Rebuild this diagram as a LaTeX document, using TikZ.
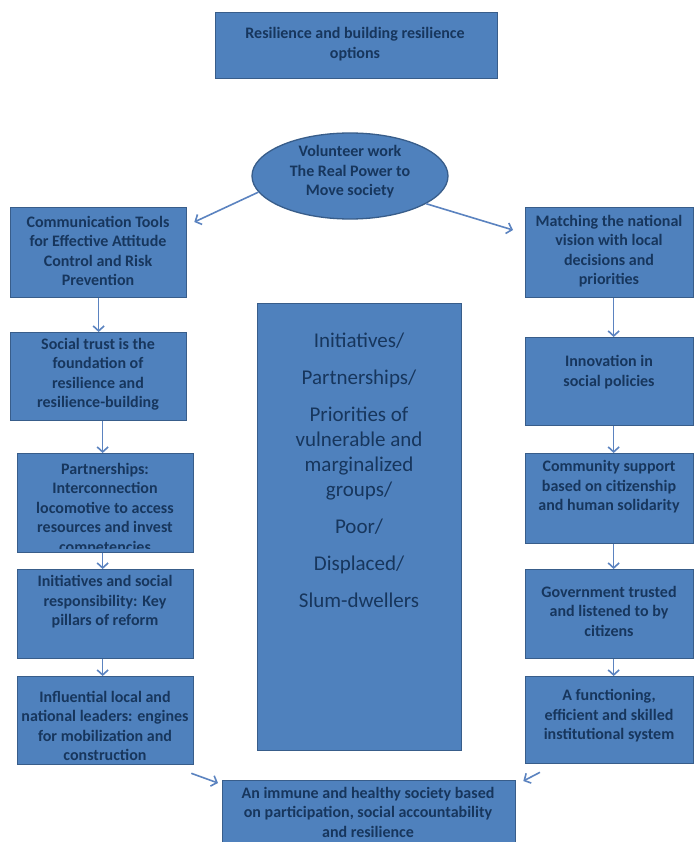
\documentclass[tikz,border=0pt]{standalone}
\usepackage{fontspec}
\setmainfont{Carlito}
\usetikzlibrary{arrows.meta,shapes.geometric}
\definecolor{boxblue}{HTML}{4F81BD}
\definecolor{boxedge}{HTML}{385D8A}
\definecolor{txtblue}{HTML}{17365D}
\definecolor{arrblue}{HTML}{5B83C0}
\tikzset{
	panel/.style={draw=boxedge, fill=boxblue, line width=1.3pt, inner sep=0pt, anchor=north west},
	words/.style={text=txtblue, font=\bfseries\fontsize{16}{19.5}\selectfont, align=center, inner sep=0pt},
	bigwords/.style={text=txtblue, font=\fontsize{21}{25}\selectfont, align=center, inner sep=0pt},
	flow/.style={draw=arrblue, line width=1.6pt, -{Straight Barb[length=5pt,width=11pt]}}
}

\begin{document}
\begin{tikzpicture}[x=1pt, y=-1pt]
		%%%%% START %%%%%
		\clip (0,0) rectangle (697,842);
		\fill[white] (0,0) rectangle (697,842);
		
		\node[panel, minimum width=282pt, minimum height=66pt] (title) at (215,12) {};
		\node[words] (titletxt) at (355,44) {Resilience and building resilience\\options};
		
		\node[panel, shape=ellipse, anchor=center, minimum width=196pt, minimum height=86pt] (volunteer) at (350,176) {};
		\node[words] (volunteertxt) at (350,172) {Volunteer work\\The Real Power to\\Move society};
		
		%% left column
		\node[panel, minimum width=176pt, minimum height=90pt] (commtools) at (10,207) {};
		\node[words] (commtoolstxt) at (98,251) {Communication Tools\\for Effective Attitude\\Control and Risk\\Prevention};
		\node[panel, minimum width=176pt, minimum height=88pt] (trust) at (10,332) {};
		\node[words] (trusttxt) at (98,374) {Social trust is the\\foundation of\\resilience and\\resilience-building};
		\node[panel, minimum width=176pt, minimum height=99pt] (partner) at (17,453) {};
		\begin{scope}
			\clip (18,454) rectangle (192,548);
			\node[words] (partnertxt) at (105,509) {Partnerships:\\Interconnection\\locomotive to access\\resources and invest\\competencies};
		\end{scope}
		\node[panel, minimum width=176pt, minimum height=89pt] (reform) at (17,569) {};
		\node[words] (reformtxt) at (105,602) {Initiatives and social\\responsibility: Key\\pillars of reform};
		\node[panel, minimum width=176pt, minimum height=88pt] (leaders) at (17,676) {};
		\node[words] (leaderstxt) at (105,726) {Influential local and\\national leaders: engines\\for mobilization and\\construction};
		
		%% right column
		\node[panel, minimum width=168pt, minimum height=90pt] (matching) at (525,207) {};
		\node[words] (matchingtxt) at (609,251) {Matching the national\\vision with local\\decisions and\\priorities};
		\node[panel, minimum width=168pt, minimum height=88pt] (innovation) at (525,337) {};
		\node[words] (innovationtxt) at (609,372) {Innovation in\\social policies};
		\node[panel, minimum width=168pt, minimum height=90pt] (community) at (525,453) {};
		\node[words] (communitytxt) at (609,487) {Community support\\based on citizenship\\and human solidarity};
		\node[panel, minimum width=168pt, minimum height=89pt] (government) at (525,569) {};
		\node[words] (governmenttxt) at (609,611) {Government trusted\\and listened to by\\citizens};
		\node[panel, minimum width=168pt, minimum height=87pt] (institution) at (525,676) {};
		\node[words] (institutiontxt) at (609,716) {A functioning,\\efficient and skilled\\institutional system};
		
		%% middle and bottom
		\node[panel, minimum width=204pt, minimum height=447pt] (groups) at (257,303) {};
		\node[bigwords] (groupstxt) at (359,470) {Initiatives/\\[12pt]Partnerships/\\[12pt]Priorities of\\vulnerable and\\marginalized\\groups/\\[12pt]Poor/\\[12pt]Displaced/\\[12pt]Slum-dwellers};
		\node[panel, minimum width=293pt, minimum height=80pt] (society) at (222,780) {};
		\node[words] (societytxt) at (368,812) {An immune and healthy society based\\on participation, social accountability\\and resilience};
		
		%% arrows
		\draw[flow] (volunteer.190) -- ([shift={(7,15)}]commtools.north east);
		\draw[flow] (volunteer.-20) -- ([shift={(-12,23)}]matching.north west);
		
		\draw[flow] (commtools.south) -- (trust.north);
		\draw[flow] ([xshift=4]trust.south) -- ([xshift=-3]partner.north);
		\draw[flow] ([xshift=-3]partner.south) -- ([xshift=-3]reform.north);
		\draw[flow] ([xshift=-3]reform.south) -- ([xshift=-3]leaders.north);
		
		\draw[flow] ([xshift=4]matching.south) -- ([xshift=4]innovation.north);
		\draw[flow] ([xshift=4]innovation.south) -- ([xshift=4]community.north);
		\draw[flow] ([xshift=4]community.south) -- ([xshift=4]government.north);
		\draw[flow] ([xshift=4]government.south) -- ([xshift=4]institution.north);
		
		\draw[flow] ([shift={(-3,8)}]leaders.south east) -- ([shift={(-4,3)}]society.north west);
		\draw[flow] ([shift={(15,8)}]institution.south west) -- ([shift={(7,1)}]society.north east);
		%%%%% END %%%%%
\end{tikzpicture}
\end{document}
